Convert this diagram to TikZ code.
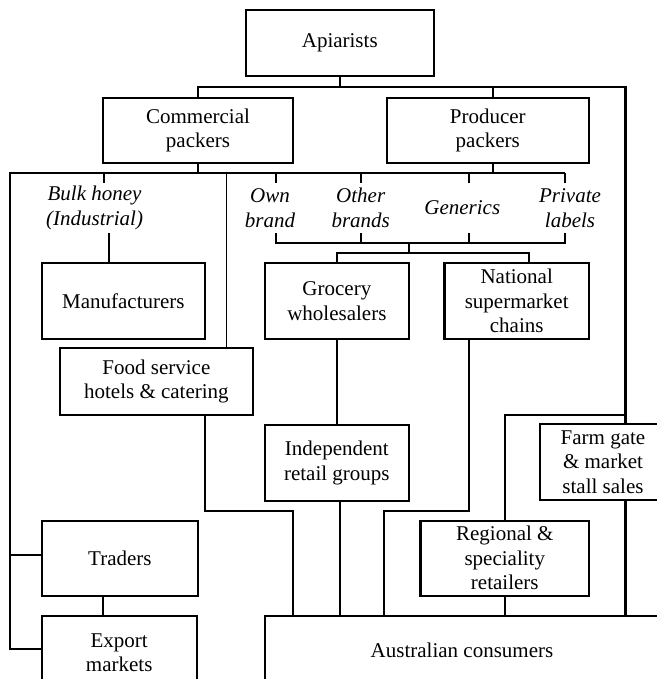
\documentclass[tikz,border=0pt]{standalone}
\usepackage{fontspec}
\setmainfont{Liberation Serif}
\begin{document}
\begin{tikzpicture}[x=1pt,y=-1pt,
  box/.style={draw, line width=2.2pt, rectangle, inner sep=0pt, align=center, font=\fontsize{21}{24.5}\selectfont},
  lab/.style={inner sep=0pt, align=center, minimum height=50pt, font=\fontsize{21}{24.5}\selectfont\itshape},
  conn/.style={line width=2.2pt},
  thinconn/.style={line width=1.2pt}]
\useasboundingbox (0,0) rectangle (656,679);

% boxes
\node[box, minimum width=188.3pt, minimum height=66pt] (api) at (339.75,43) {Apiarists};
\node[box, minimum width=190pt, minimum height=65.6pt] (comm) at (198,130.5) {Commercial\\packers};
\node[box, minimum width=202.4pt, minimum height=65.6pt] (prod) at (487.8,130.5) {Producer\\packers};
\node[box, minimum width=163.2pt, minimum height=75.7pt] (manu) at (123.4,301.2) {Manufacturers};
\node[box, minimum width=143.9pt, minimum height=75.7pt] (groc) at (336.85,301.2) {Grocery\\wholesalers};
\node[box, minimum width=144.6pt, minimum height=75.7pt] (nat) at (516.7,301.2) {National\\supermarket\\chains};
\node[box, minimum width=193.2pt, minimum height=66.7pt] (food) at (156.4,381.7) {Food service\\hotels \& catering};
\node[box, minimum width=143.9pt, minimum height=76pt] (indep) at (336.85,463) {Independent\\retail groups};
\node[box, minimum width=126pt, minimum height=75.7pt] (farm) at (603,462.2) {Farm gate\\\& market\\stall sales};
\node[box, minimum width=168.5pt, minimum height=75pt] (reg) at (504.8,558.2) {Regional \&\\speciality\\retailers};
\node[box, minimum width=156.2pt, minimum height=75pt] (tr) at (119.9,558.2) {Traders};
\node[box, minimum width=155pt, minimum height=73pt] (exp) at (119.2,652.5) {Export\\markets};
\node[box, minimum width=394.2pt, minimum height=68.6pt] (cons) at (462,650) {Australian consumers};

% italic labels
\node[lab] (bulk) at (94.6,208) {Bulk honey\\(Industrial)};
\node[lab] (own) at (270,208) {Own\\brand};
\node[lab] (other) at (360.7,208) {Other\\brands};
\node[lab] (gen) at (462.3,208) {Generics};
\node[lab] (priv) at (570,208) {Private\\labels};

% coordinates
\coordinate (R) at (625.5,86.7);
\coordinate (J) at (625.5,414.7);
\coordinate (bus2L) at (10,173.3);
\coordinate (bus2R) at (565,173.3);
\coordinate (EJ) at (10,649.3);
\coordinate (TJ) at (10,555);
\coordinate (F) at (226.4,173.3);
\coordinate (B3) at (408.8,242.7);
\coordinate (B4) at (408.8,252.7);
\coordinate (K1) at (205,511);
\coordinate (K2) at (293,511);
\coordinate (K3) at (384,511);
\coordinate (K4) at (468.6,511);
\coordinate (TX) at (103.3,0);

% top level
\draw[conn] (api.south) -- (api.south |- R);
\draw[conn] (comm.north) -- (comm.north |- R) -- (R) -- (farm.north -| R);
\draw[conn] ([xshift=5pt]prod.north) -- ([xshift=5pt]prod.north |- R);
\draw[conn] (J) -- (J -| reg.north) -- (reg.north);

% second bus
\draw[conn] (comm.south) -- (comm.south |- bus2L);
\draw[conn] ([xshift=5pt]prod.south) -- ([xshift=5pt]prod.south |- bus2L);
\draw[conn] (bus2R) -- (bus2L) -- (EJ) -- (EJ -| exp.west);
\draw[conn] (TJ) -- (TJ -| tr.west);
\draw[thinconn] (F) -- (F |- food.north);

% label ticks
\draw[conn] ([xshift=9.2pt]bulk.north) -- ([xshift=9.2pt]bulk.north |- bus2L);
\draw[conn] ([xshift=6pt]own.north) -- ([xshift=6pt]own.north |- bus2L);
\draw[conn] (other.north) -- (other.north |- bus2L);
\draw[conn] ([xshift=6.3pt]gen.north) -- ([xshift=6.3pt]gen.north |- bus2L);
\draw[conn] ([xshift=-5pt]priv.north) -- ([xshift=-5pt]priv.north |- bus2L);

\draw[conn] ([xshift=14.4pt]bulk.south) -- ([xshift=14.4pt]bulk.south |- manu.north);
\draw[conn] ([xshift=6pt]own.south) -- ([xshift=6pt]own.south |- B3) -- ([xshift=-5pt]priv.south |- B3) -- ([xshift=-5pt]priv.south);
\draw[conn] (other.south) -- (other.south |- B3);
\draw[conn] ([xshift=6.3pt]gen.south) -- ([xshift=6.3pt]gen.south |- B3);
\draw[conn] (B3) -- (B4);
\draw[conn] (groc.north) -- (groc.north |- B4) -- ([xshift=12.6pt]nat.north |- B4) -- ([xshift=12.6pt]nat.north);

% lower connectors
\draw[conn] (groc.south) -- (indep.north);
\draw[conn] (food.south -| K1) -- (K1) -- (K2) -- (K2 |- cons.north);
\draw[conn] (nat.south -| K4) -- (K4) -- (K3) -- (K3 |- cons.north);
\draw[conn] ([xshift=2.9pt]indep.south) -- ([xshift=2.9pt]indep.south |- cons.north);
\draw[conn] (reg.south) -- (reg.south |- cons.north);
\draw[conn] (farm.south -| R) -- (R |- cons.north);
\draw[conn] (tr.south -| TX) -- (exp.north -| TX);
\end{tikzpicture}
\end{document}
